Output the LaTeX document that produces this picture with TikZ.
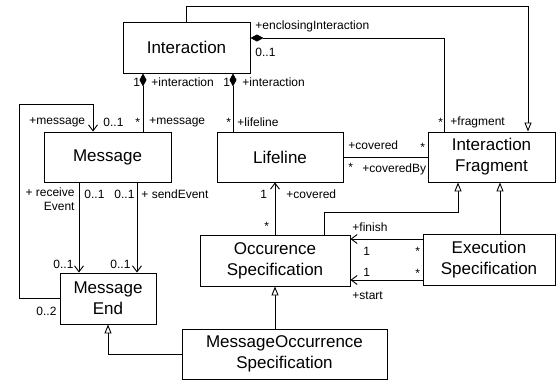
\documentclass[tikz,border=0pt]{standalone}
\usepackage{fontspec}
\setmainfont{Liberation Sans}
\usetikzlibrary{arrows.meta}

\begin{document}
\begin{tikzpicture}[x=1pt,y=-1pt,line width=0.9pt,
  cls/.style={draw,shape=rectangle,fill=white,align=center,inner sep=0pt,font=\fontsize{17}{21}\selectfont},
  lbl/.style={inner sep=0pt,font=\fontsize{12}{14}\selectfont},
  comp/.style={{Diamond[length=13pt,width=7pt]}-},
  nav/.style={-{Straight Barb[length=6pt,width=9pt]}},
  gen/.style={-{Triangle[open,length=9pt,width=7pt,fill=white]}}]

  \useasboundingbox (0,0) rectangle (556,381);

  % Specification of classes (position, size)
  \node[cls,minimum width=127,minimum height=51] (Interaction) at (186.5,47.5) {Interaction};
  \node[cls,minimum width=127,minimum height=50] (Message) at (107.5,157) {Message};
  \node[cls,minimum width=126,minimum height=50] (Lifeline) at (280,157) {Lifeline};
  \node[cls,minimum width=127,minimum height=50] (IF) at (491.5,157) {Interaction\\Fragment};
  \node[cls,minimum width=150,minimum height=51] (OS) at (275,260.5) {Occurence\\Specification};
  \node[cls,minimum width=132,minimum height=51] (ES) at (489,259.5) {Execution\\Specification};
  \node[cls,minimum width=96,minimum height=51] (ME) at (108,298.5) {Message\\End};
  \node[cls,minimum width=205,minimum height=50] (MOS) at (284.5,354) {MessageOccurrence\\Specification};

  % bend points of the connectors
  \coordinate (encl) at (444,38);
  \coordinate (im) at (143,0);
  \coordinate (il) at (233,0);
  \coordinate (lp) at (19,104);
  \coordinate (ma) at (93,0);
  \coordinate (re) at (79,0);
  \coordinate (se) at (137,0);
  \coordinate (og) at (324,212);
  \coordinate (ig) at (458,212);
  \coordinate (eg) at (500,0);
  \coordinate (fin) at (0,239);
  \coordinate (sta) at (0,280);
  \coordinate (mg) at (108,354);

  \begin{scope}
    \draw[gen] (Interaction.north) -- ++(0,-15) -| ([xshift=36.5pt]IF.north);
    \draw[comp] (Interaction.east |- encl) -| (IF.north -| encl);
    \draw[comp] (Interaction.south -| im) -- (Message.north -| im);
    \draw[comp] (Interaction.south -| il) -- (Lifeline.north -| il);
    \draw[nav] (ME.west) -| (lp) -| (Message.north -| ma);
    \draw[nav] (Message.south -| re) -- (ME.north -| re);
    \draw[nav] (Message.south -| se) -- (ME.north -| se);
    \draw (Lifeline.east) -- (IF.west);
    \draw[nav] (OS.north) -- (Lifeline.south -| OS.north);
    \draw[gen] (OS.north -| og) -- (og) -- (ig) -- (IF.south -| ig);
    \draw[gen] (ES.north -| eg) -- (IF.south -| eg);
    \draw[nav] (ES.west |- fin) -- (OS.east |- fin);
    \draw[nav] (ES.west |- sta) -- (OS.east |- sta);
    \draw[gen] (MOS.north -| OS.south) -- (OS.south);
    \draw[gen] (MOS.west |- mg) -| (ME.south);
  \end{scope}

  % role names and multiplicities
  \begin{scope}[every node/.style={lbl,anchor=west}]
    \node (l1) at (255,26) {+enclosingInteraction};
    \node (l2) at (255,52) {0..1};
    \node (l3) at (133,82) {1};
    \node (l4) at (151,82) {+interaction};
    \node (l5) at (223,82) {1};
    \node (l6) at (242,82) {+interaction};
    \node (l7) at (135,122) {*};
    \node (l8) at (149,122) {+message};
    \node (l9) at (226,122) {*};
    \node (l10) at (237,122) {+lifeline};
    \node (l11) at (29,122) {+message};
    \node (l12) at (103,122) {0..1};
    \node (l13) at (438,122) {*};
    \node (l14) at (450,122) {+fragment};
    \node[align=right,anchor=north east] (l15) at (75,187) {+ receive\\Event};
    \node (l16) at (84,194) {0..1};
    \node (l17) at (114,194) {0..1};
    \node (l18) at (141,194) {+ sendEvent};
    \node (l19) at (53,264) {0..1};
    \node (l20) at (110,264) {0..1};
    \node (l21) at (36,311) {0..2};
    \node (l22) at (348,145) {+covered};
    \node (l23) at (420,147) {*};
    \node (l24) at (348,167) {*};
    \node (l25) at (362,169) {+coveredBy};
    \node (l26) at (260,194) {1};
    \node (l27) at (286,194) {+covered};
    \node (l28) at (264,226) {*};
    \node (l29) at (352,227) {+finish};
    \node (l30) at (363,251) {1};
    \node (l31) at (415,251) {*};
    \node (l32) at (363,272) {1};
    \node (l33) at (415,273) {*};
    \node (l34) at (352,296) {+start};
  \end{scope}

\end{tikzpicture}
\end{document}
